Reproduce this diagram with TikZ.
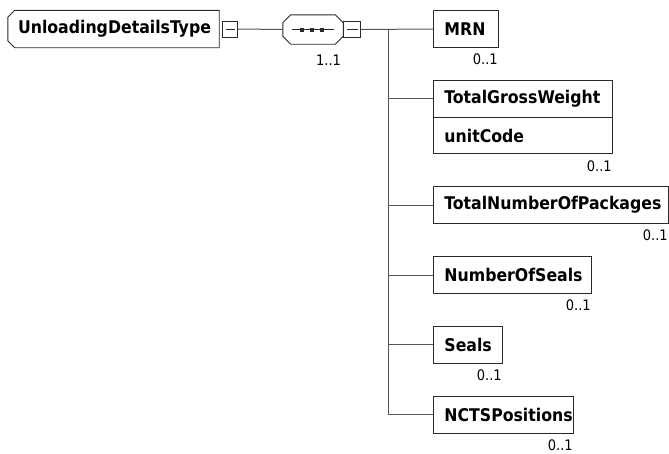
\documentclass[tikz,border=0pt]{standalone}
\usepackage{fontspec}
\setmainfont{DejaVu Sans Condensed}
\usetikzlibrary{positioning}
\definecolor{boxline}{HTML}{2A2A2A}
\definecolor{linkline}{HTML}{555555}
\tikzset{
  elem/.style={draw=boxline,line width=0.9pt,anchor=west,minimum height=37,inner xsep=11,inner ysep=0,align=left},
  root/.style={minimum width=211,minimum height=37,inner sep=0},
  seqbox/.style={minimum width=60,minimum height=29,inner sep=0},
  minus/.style={draw=boxline,line width=0.8pt,minimum width=15,minimum height=16,inner sep=0,
    path picture={\draw[boxline,line width=0.8pt] ([xshift=3pt]path picture bounding box.west) -- ([xshift=-3pt]path picture bounding box.east);}},
  card/.style={font=\mdseries\fontsize{14.5}{16}\selectfont,inner sep=0},
  link/.style={linkline,line width=1pt},
  outline/.style={draw=boxline,line width=0.9pt}
}
\begin{document}
\begin{tikzpicture}[x=1pt,y=-1pt,font=\bfseries\fontsize{17.5}{20}\selectfont]
\useasboundingbox (0,0) rectangle (669,453);
\node[root] (type) at (113.5,29) {\hspace*{2pt}UnloadingDetailsType};
\draw[outline] ([xshift=7pt]type.north west) -- (type.north east) -- (type.south east)
  -- ([xshift=7pt]type.south west) -- ([yshift=7pt]type.south west)
  -- ([yshift=-7pt]type.north west) -- cycle;
\node[minus,right=3pt of type] (typeminus) {};
\node[seqbox] (seq) at (313,29.5) {};
% octagon of the sequence
\draw[outline] ([xshift=8pt]seq.north west) -- ([xshift=-8pt]seq.north east) -- ([yshift=-8pt]seq.north east)
  -- ([yshift=8pt]seq.south east) -- ([xshift=-8pt]seq.south east) -- ([xshift=8pt]seq.south west)
  -- ([yshift=8pt]seq.south west) -- ([yshift=-8pt]seq.north west) -- cycle;
\node[minus,anchor=west,minimum width=17] (seqminus) at (seq.east) {};
\node[card,below left=11pt and 2pt of seq.south east] (seqcard) {1..1};
\draw[boxline,line width=1pt] ([xshift=-21pt]seq.center) -- ([xshift=21pt]seq.center);
\foreach \dx in {-11,-1,9}
  \fill[boxline] ([xshift=\dx pt]seq.center) ++(-2,-2) rectangle ++(4,4);
% children
\node[elem,text width=43] (mrn) at (433,29) {MRN};
\node[elem,text width=157] (tgw) at (433,98.5) {TotalGrossWeight};
\node[elem,text width=157,anchor=north west,minimum height=36] (unit) at (tgw.south west) {unitCode};
\node[elem,text width=213] (tnop) at (433,205) {TotalNumberOfPackages};
\node[elem,text width=136] (nos) at (433,275) {NumberOfSeals};
\node[elem,text width=47] (seals) at (433,344.5) {Seals};
\node[elem,text width=118] (ncts) at (433,414.5) {NCTSPositions};
\foreach \n in {mrn,unit,tnop,nos,seals,ncts}
  \node[card,below left=6pt and 1pt of \n.south east] {0..1};
% connectors
\draw[link] (typeminus.east) -- (seq.west);
\draw[link] (seqminus.east) -- (mrn.west);
\coordinate (fork) at (388,29);
\draw[link] (fork) -- (fork |- ncts.west);
\foreach \n in {tgw,tnop,nos,seals,ncts}
  \draw[link] (fork |- \n.west) -- (\n.west);
\end{tikzpicture}
\end{document}
